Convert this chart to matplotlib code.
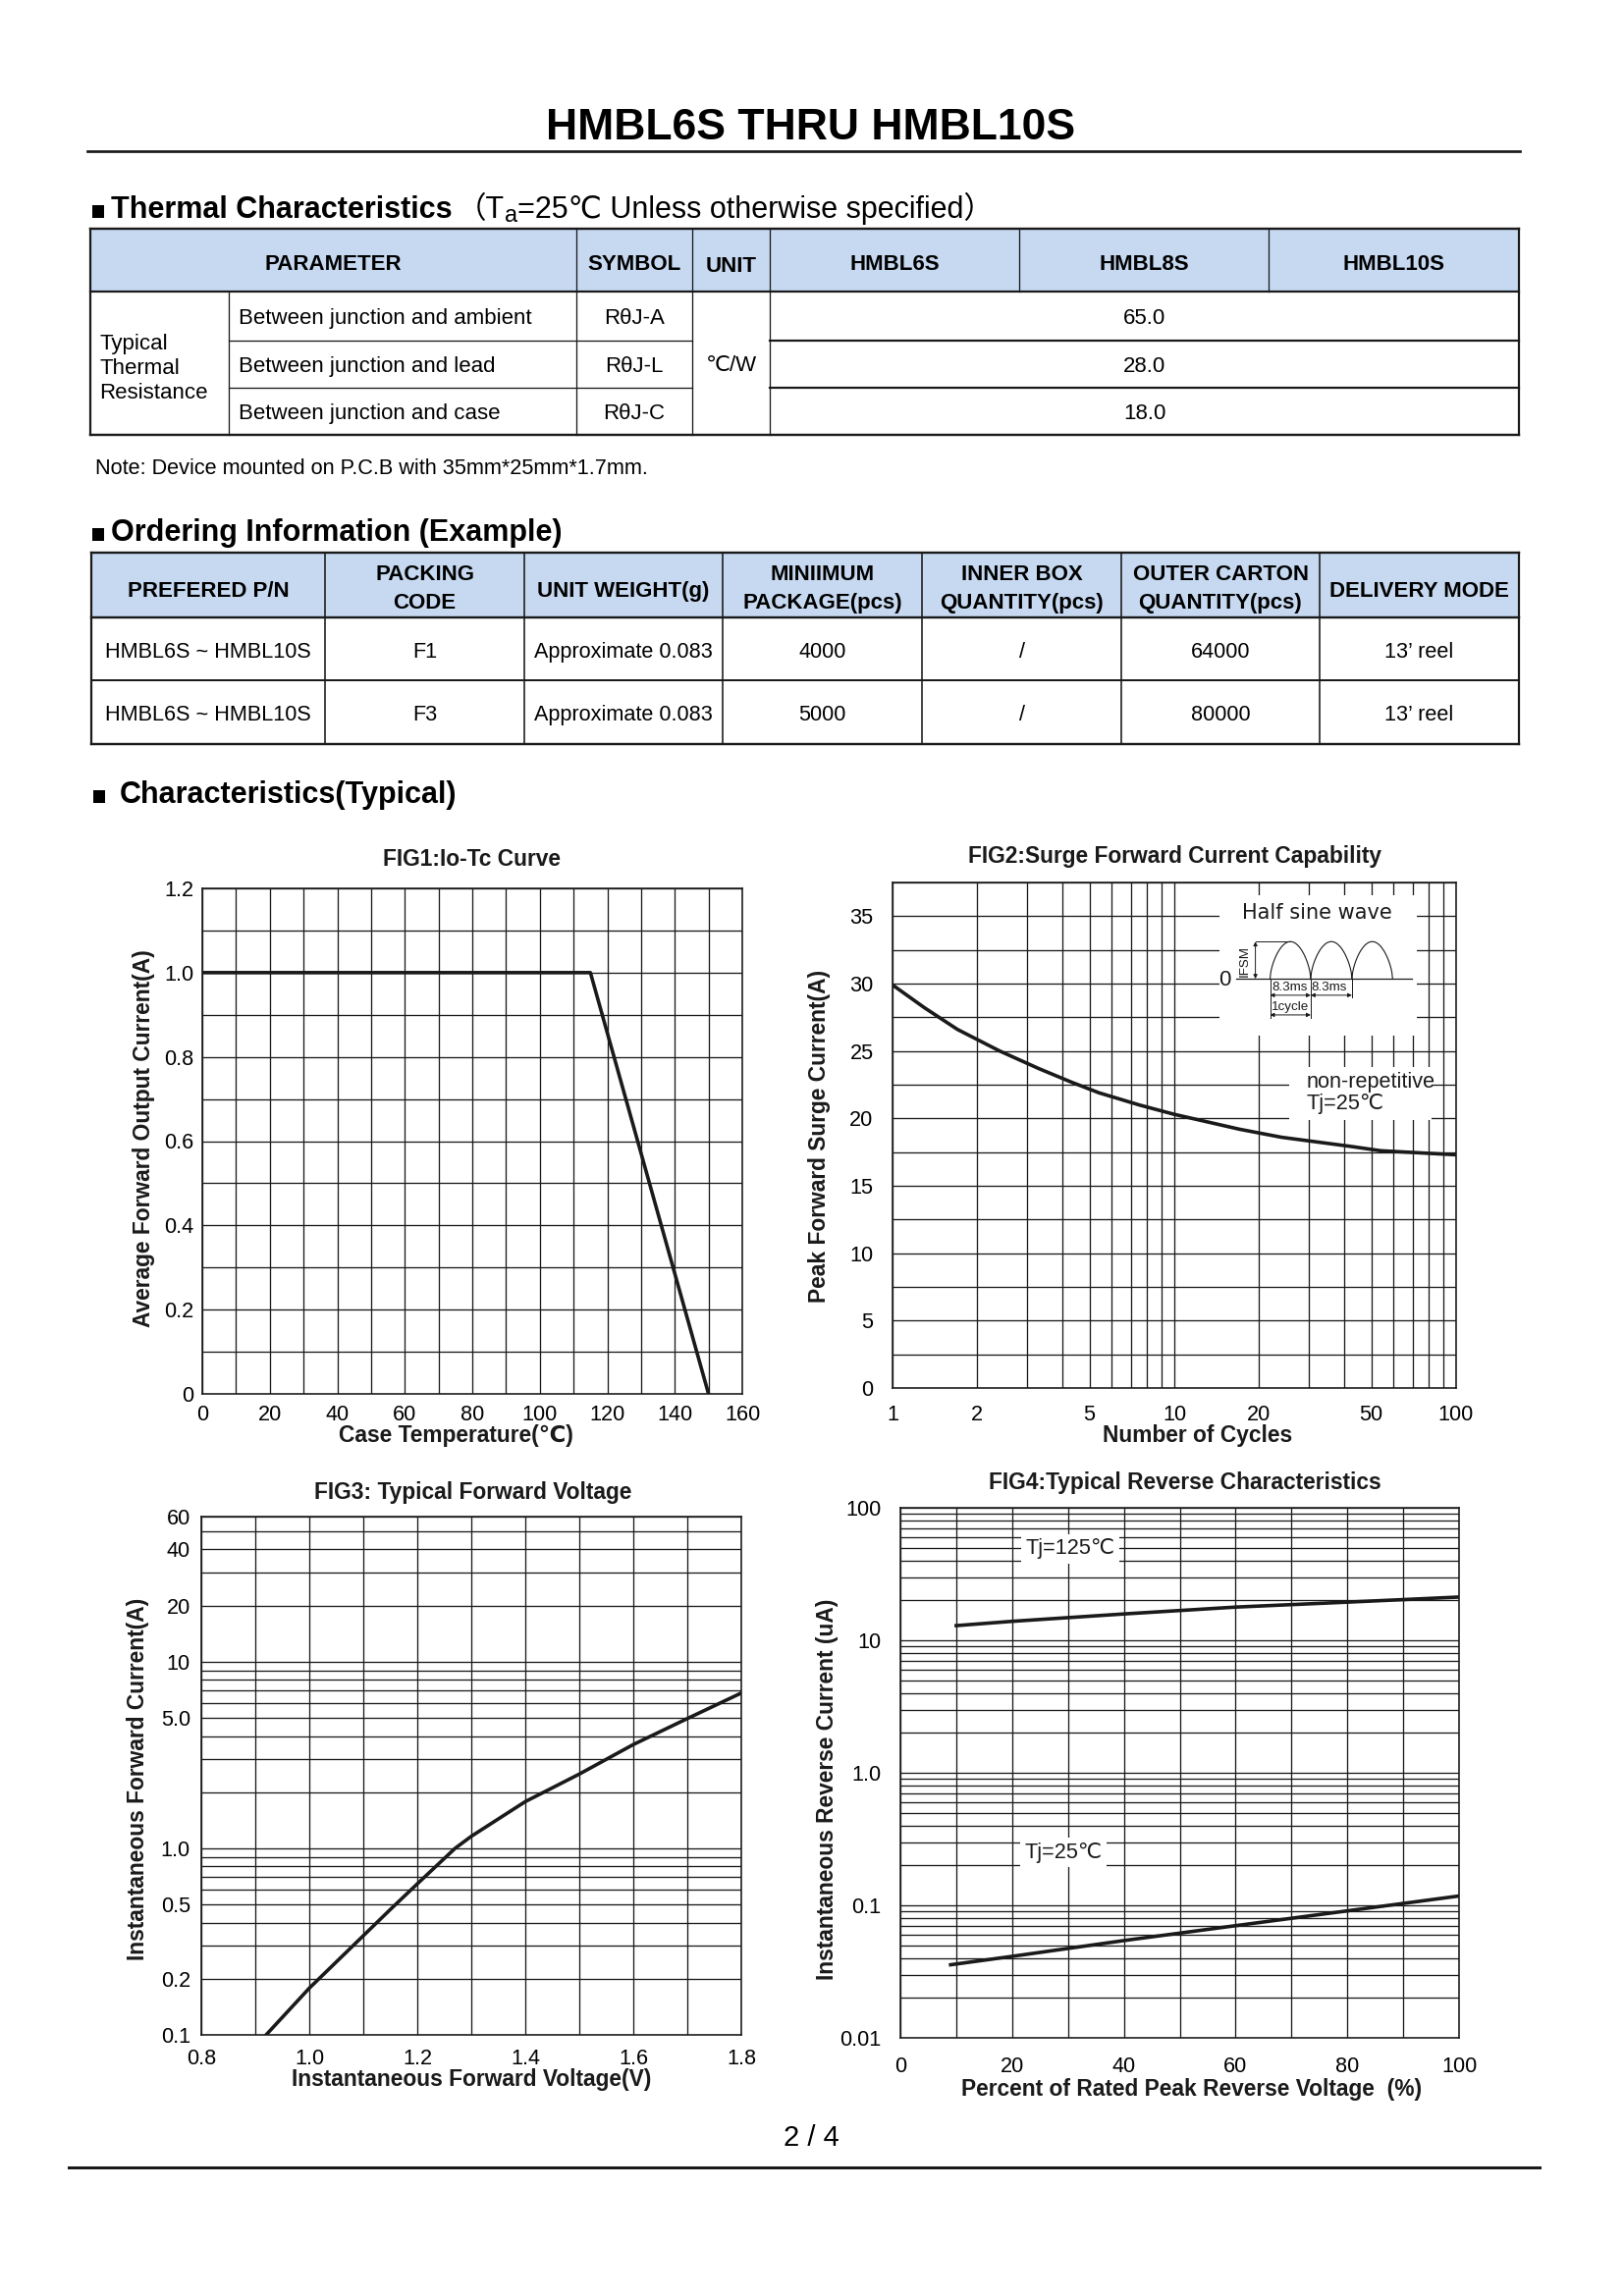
import numpy as np
import matplotlib
matplotlib.use("Agg")
import matplotlib.pyplot as plt
from matplotlib.patches import Rectangle

# fonts: Arial look-alike first, then fallbacks for ℃ and the fullwidth brackets
plt.rcParams['font.family'] = ['Liberation Sans', 'DejaVu Sans', 'Noto Sans CJK SC']

W, H, DPI = 1654, 2339, 200
INK = '#1a1a1a'
HEAD_BLUE = '#c6d9f1'

# ---------------- table data ----------------
thermal_cols = ["PARAMETER", "SYMBOL", "UNIT", "HMBL6S", "HMBL8S", "HMBL10S"]
thermal_group = ["Typical", "Thermal", "Resistance"]
thermal_params = ["Between junction and ambient", "Between junction and lead", "Between junction and case"]
thermal_symbols = ["RθJ-A", "RθJ-L", "RθJ-C"]
thermal_unit = "℃/W"
thermal_values = ["65.0", "28.0", "18.0"]

order_cols = ["PREFERED P/N", "PACKING\nCODE", "UNIT WEIGHT(g)", "MINIIMUM\nPACKAGE(pcs)",
              "INNER BOX\nQUANTITY(pcs)", "OUTER CARTON\nQUANTITY(pcs)", "DELIVERY MODE"]
order_row1 = ["HMBL6S ~ HMBL10S", "F1", "Approximate 0.083", "4000", "/", "64000", "13’ reel"]
order_row2 = ["HMBL6S ~ HMBL10S", "F3", "Approximate 0.083", "5000", "/", "80000", "13’ reel"]

# ---------------- curve data ----------------
# FIG1 Io-Tc derating
case_temp = [0, 115, 150]
io_current = [1.0, 1.0, 0.0]

# FIG2 surge current vs number of cycles
surge_cycles = [1, 1.3, 1.7, 2.4, 3.3, 4.3, 5.4, 7.5, 10, 17, 24, 43, 54, 100]
surge_amps = [29.9, 28.2, 26.6, 25.0, 23.7, 22.7, 21.9, 21.0, 20.3, 19.2, 18.6, 17.9, 17.6, 17.3]

# FIG3 forward voltage
vf_volts = [0.92, 1.0, 1.1, 1.15, 1.2, 1.27, 1.3, 1.4, 1.5, 1.6, 1.7, 1.8]
if_amps = [0.10, 0.178, 0.34, 0.47, 0.645, 1.0, 1.16, 1.78, 2.5, 3.6, 4.96, 6.8]

# FIG4 reverse current
vr_pct_125 = [10, 20, 40, 60, 80, 100]
ir_125 = [12.9, 13.9, 15.8, 17.8, 19.4, 21.2]
vr_pct_25 = [9, 20, 40, 60, 80, 100]
ir_25 = [0.0356, 0.0412, 0.0542, 0.0702, 0.0908, 0.1176]


def lw(px):
    # pixel width -> points at 200 dpi
    return px * 72 / DPI


fig = plt.figure(figsize=(W / DPI, H / DPI), dpi=DPI)
renderer = fig.canvas.get_renderer()

# page layer in pixel coordinates (y down)
page = fig.add_axes([0, 0, 1, 1])
page.set_xlim(0, W)
page.set_ylim(H, 0)
page.axis('off')


def hline(x0, x1, y, px=1.3):
    page.plot([x0, x1], [y, y], color=INK, lw=lw(px), solid_capstyle='projecting')


def vline(x, y0, y1, px=1.3):
    page.plot([x, x], [y0, y1], color=INK, lw=lw(px), solid_capstyle='projecting')


def run(x, y, pieces):
    # draw text pieces one after another on a common baseline
    for s, kw in pieces:
        kw = dict(kw)
        dy = kw.pop('dy', 0)
        gap = kw.pop('gap', 0)
        x += gap
        t = page.text(x, y + dy, s, va='baseline', ha='left', color='black', **kw)
        x += t.get_window_extent(renderer).width
    return x


def square(x, y):
    page.add_patch(Rectangle((x, y - 13), 12, 13, fc='black', ec='none'))


def cell(x, y, s, size=8, weight='normal', ha='center'):
    page.text(x, y, s, ha=ha, va='center_baseline', fontsize=size, fontweight=weight, color='black')


# ---------------- title ----------------
page.text(826, 142, "HMBL6S THRU HMBL10S", ha='center', va='baseline',
          fontsize=16, fontweight='bold')
hline(89, 1548, 154, 2.7)

# ---------------- thermal table ----------------
square(94, 222)
run(113, 222, [("Thermal Characteristics", dict(fontsize=11, fontweight='bold')),
               ("（T", dict(fontsize=11, gap=4)),
               ("a", dict(fontsize=8.5, dy=4)),
               ("=25℃ Unless otherwise specified）", dict(fontsize=11))])

tx = [92, 233, 587, 705, 784, 1038, 1292, 1547]
ty = [233, 297, 347, 395, 443]
page.add_patch(Rectangle((tx[0], ty[0]), tx[-1] - tx[0], ty[1] - ty[0], fc=HEAD_BLUE, ec='none'))
for x in tx[2:7]:
    vline(x, ty[0], ty[1])
for x in tx[1:5]:
    vline(x, ty[1], ty[-1])
for y in ty[2:4]:
    hline(tx[1], tx[3], y, 1.3)
    hline(tx[4], tx[7], y, 2.2)
hline(tx[0], tx[-1], ty[1], 2.2)
hline(tx[0], tx[-1], ty[0], 2.4)
hline(tx[0], tx[-1], ty[-1], 2.4)
vline(tx[0], ty[0], ty[-1], 2.2)
vline(tx[-1], ty[0], ty[-1], 2.2)

head_y = 267
cell((tx[0] + tx[2]) / 2, head_y, thermal_cols[0], weight='bold')
for i, name in enumerate(thermal_cols[1:]):
    cell((tx[i + 2] + tx[i + 3]) / 2, head_y + (2 if name == "UNIT" else 0), name, weight='bold')

for i, s in enumerate(thermal_group):
    page.text(101, 348 + 25 * i, s, ha='left', va='center_baseline', fontsize=8)
for i in range(3):
    yc = (ty[i + 1] + ty[i + 2]) / 2
    cell(243, yc, thermal_params[i], ha='left')
    cell((tx[2] + tx[3]) / 2, yc, thermal_symbols[i])
    cell((tx[4] + tx[7]) / 2, yc, thermal_values[i])
cell((tx[3] + tx[4]) / 2, (ty[1] + ty[-1]) / 2, thermal_unit)

page.text(97, 475, "Note: Device mounted on P.C.B with 35mm*25mm*1.7mm.", ha='left',
          va='center_baseline', fontsize=7.8)

# ---------------- ordering table ----------------
square(94, 551)
run(113, 551, [("Ordering Information (Example)", dict(fontsize=11, fontweight='bold'))])

ox = [93, 331, 534, 736, 939, 1142, 1344, 1547]
oy = [563, 629, 693, 758]
page.add_patch(Rectangle((ox[0], oy[0]), ox[-1] - ox[0], oy[1] - oy[0], fc=HEAD_BLUE, ec='none'))
for x in ox[1:-1]:
    vline(x, oy[0], oy[-1], 1.6)
hline(ox[0], ox[-1], oy[1], 2.4)
hline(ox[0], ox[-1], oy[2], 2.0)
hline(ox[0], ox[-1], oy[0], 2.4)
hline(ox[0], ox[-1], oy[-1], 2.4)
vline(ox[0], oy[0], oy[-1], 2.2)
vline(ox[-1], oy[0], oy[-1], 2.2)

for i, name in enumerate(order_cols):
    xc = (ox[i] + ox[i + 1]) / 2
    lines = name.split("\n")
    if len(lines) == 2:
        cell(xc, 583, lines[0], weight='bold')
        cell(xc, 612, lines[1], weight='bold')
    else:
        cell(xc, 600, name, weight='bold')
for row, yc in [(order_row1, 662), (order_row2, 726)]:
    for i, s in enumerate(row):
        cell((ox[i] + ox[i + 1]) / 2, yc, s, size=7.8)

# ---------------- characteristics ----------------
square(95, 818)
run(122, 818, [("Characteristics(Typical)", dict(fontsize=11, fontweight='bold'))])


def px_axes(l, t, r, b):
    return fig.add_axes([l / W, 1 - b / H, (r - l) / W, (b - t) / H])


def style(ax):
    for s in ax.spines.values():
        s.set_linewidth(lw(1.6))
        s.set_color(INK)
    ax.tick_params(which='both', length=0, labelsize=7.8, colors='black')
    ax.grid(True, which='both', color=INK, lw=lw(1.3))
    ax.set_axisbelow(True)


def labels(title, tpos, xlab, xpos, ylab, ypos):
    page.text(tpos[0], tpos[1], title, ha='center', va='center', fontsize=8.2, fontweight='bold', color=INK)
    page.text(xpos[0], xpos[1], xlab, ha='center', va='center', fontsize=8.2, fontweight='bold', color=INK)
    page.text(ypos[0], ypos[1], ylab, ha='center', va='center', rotation=90, fontsize=8.2,
              fontweight='bold', color=INK)


CURVE = dict(color=INK, lw=lw(3.6), solid_joinstyle='round', zorder=3)

# FIG1
ax1 = px_axes(206, 905, 756, 1420)
style(ax1)
ax1.plot(case_temp, io_current, **CURVE)
ax1.set_xlim(0, 160)
ax1.set_ylim(0, 1.2)
ax1.set_xticks(range(0, 161, 20))
ax1.set_xticks(range(0, 161, 10), minor=True)
ax1.set_yticks([0, 0.2, 0.4, 0.6, 0.8, 1.0, 1.2])
ax1.set_yticklabels(['0', '0.2', '0.4', '0.6', '0.8', '1.0', '1.2'])
ax1.set_yticks(np.arange(0, 1.21, 0.1), minor=True)
ax1.tick_params(axis='x', pad=4)
ax1.tick_params(axis='y', pad=3)
labels("FIG1:Io-Tc Curve", (481, 876), "Case Temperature(℃)", (464, 1463),
       "Average Forward Output Current(A)", (146, 1160))

# FIG2
ax2 = px_axes(909, 899, 1483, 1414)
style(ax2)
ax2.set_xscale('log')
ax2.plot(surge_cycles, surge_amps, **CURVE)
ax2.set_xlim(1, 100)
ax2.set_ylim(0, 37.5)
ax2.set_xticks([1, 2, 5, 10, 20, 50, 100])
ax2.set_xticklabels(['1', '2', '5', '10', '20', '50', '100'])
ax2.set_xticks([3, 4, 6, 7, 8, 9, 30, 40, 60, 70, 80, 90], minor=True)
ax2.xaxis.set_minor_formatter(plt.NullFormatter())
ax2.set_yticks(range(0, 36, 5))
ax2.set_yticks(np.arange(0, 37.6, 2.5), minor=True)
ax2.tick_params(axis='x', pad=6)
ax2.tick_params(axis='y', pad=7)
# white boxes for the inset and the note
for (x0, y0, x1, y1) in [(0.580, 0.697, 0.931, 0.974), (0.703, 0.531, 0.957, 0.634)]:
    ax2.add_patch(Rectangle((x0, y0), x1 - x0, y1 - y0, transform=ax2.transAxes,
                            fc='white', ec='none', zorder=1.5))
tA = ax2.transAxes
base, amp = 0.8095, 0.0735
t = np.linspace(0, 1, 60)
for a0, a1 in [(0.6699, 0.742), (0.742, 0.8152), (0.8152, 0.8873)]:
    ax2.plot(a0 + (a1 - a0) * t, base + amp * np.sin(np.pi * t) ** 0.6, transform=tA,
             color=INK, lw=0.4, zorder=4)
ax2.plot([0.6105, 0.922], [base, base], transform=tA, color=INK, lw=0.45, zorder=4)
ax2.plot([0.6439, 0.706], [base + amp, base + amp], transform=tA, color=INK, lw=0.35, zorder=4)
ax2.plot([0.6699, 0.6699], [base, 0.733], transform=tA, color=INK, lw=0.35, zorder=4)
ax2.plot([0.742, 0.742], [base, 0.733], transform=tA, color=INK, lw=0.35, zorder=4)
ax2.plot([0.8152, 0.8152], [base, 0.772], transform=tA, color=INK, lw=0.35, zorder=4)
arrow = dict(arrowstyle='<|-|>', lw=0.35, color=INK, mutation_scale=3, shrinkA=0, shrinkB=0)
ax2.annotate('', xy=(0.6439, base + amp), xytext=(0.6439, base), xycoords=tA, arrowprops=arrow, zorder=4)
ax2.annotate('', xy=(0.6699, 0.777), xytext=(0.742, 0.777), xycoords=tA, arrowprops=arrow, zorder=4)
ax2.annotate('', xy=(0.742, 0.777), xytext=(0.8152, 0.777), xycoords=tA, arrowprops=arrow, zorder=4)
ax2.annotate('', xy=(0.6699, 0.738), xytext=(0.742, 0.738), xycoords=tA, arrowprops=arrow, zorder=4)
ax2.text(0.7535, 0.9396, "Half sine wave", transform=tA, ha='center', va='center', fontsize=7.5,
         family='DejaVu Sans', color=INK, zorder=4)
ax2.text(0.590, 0.8075, "0", transform=tA, ha='center', va='center', fontsize=8, color=INK, zorder=4)
ax2.text(0.6254, 0.8453, "IFSM", transform=tA, ha='center', va='center', rotation=90, fontsize=4.8,
         color=INK, zorder=4)
for xc in (0.7056, 0.7748):
    ax2.text(xc, 0.792, "8.3ms", transform=tA, ha='center', va='center', fontsize=4.8, color=INK, zorder=4)
ax2.text(0.7056, 0.754, "1cycle", transform=tA, ha='center', va='center', fontsize=4.8, color=INK, zorder=4)
ax2.text(0.734, 0.6047, "non-repetitive", transform=tA, ha='left', va='center', fontsize=7.8, color=INK, zorder=4)
ax2.text(0.734, 0.5623, "Tj=25℃", transform=tA, ha='left', va='center', fontsize=7.8, color=INK, zorder=4)
labels("FIG2:Surge Forward Current Capability", (1196, 873), "Number of Cycles", (1220, 1462),
       "Peak Forward Surge Current(A)", (834, 1157))

# FIG3
ax3 = px_axes(205, 1545, 755, 2073)
style(ax3)
ax3.set_yscale('log')
ax3.plot(vf_volts, if_amps, **CURVE)
ax3.set_xlim(0.8, 1.8)
ax3.set_ylim(0.1, 60)
ax3.set_xticks([0.8, 1.0, 1.2, 1.4, 1.6, 1.8])
ax3.set_xticklabels(['0.8', '1.0', '1.2', '1.4', '1.6', '1.8'])
ax3.set_xticks(np.arange(0.8, 1.81, 0.1), minor=True)
ax3.set_yticks([0.1, 0.2, 0.5, 1, 5, 10, 20, 40, 60])
ax3.set_yticklabels(['0.1', '0.2', '0.5', '1.0', '5.0', '10', '20', '40', '60'])
ax3.set_yticks([0.3, 0.4, 0.6, 0.7, 0.8, 0.9, 2, 3, 4, 6, 7, 8, 9, 30, 50], minor=True)
ax3.yaxis.set_minor_formatter(plt.NullFormatter())
ax3.tick_params(axis='x', pad=5)
ax3.tick_params(axis='y', pad=4)
labels("FIG3: Typical Forward Voltage", (482, 1521), "Instantaneous Forward Voltage(V)", (480, 2119),
       "Instantaneous Forward Current(A)", (140, 1812))

# FIG4
ax4 = px_axes(917, 1536, 1486, 2076)
style(ax4)
ax4.set_yscale('log')
ax4.plot(vr_pct_125, ir_125, **CURVE)
ax4.plot(vr_pct_25, ir_25, **CURVE)
ax4.set_xlim(0, 100)
ax4.set_ylim(0.01, 100)
ax4.set_xticks(range(0, 101, 20))
ax4.set_xticks(range(0, 101, 10), minor=True)
ax4.set_yticks([0.01, 0.1, 1, 10, 100])
ax4.set_yticklabels(['0.01', '0.1', '1.0', '10', '100'])
minor4 = [m * d for d in (0.01, 0.1, 1, 10) for m in range(2, 10)]
ax4.set_yticks(minor4, minor=True)
ax4.yaxis.set_minor_formatter(plt.NullFormatter())
ax4.tick_params(axis='x', pad=7)
ax4.tick_params(axis='y', pad=7)
box = dict(fc='white', ec='none', pad=1.5)
ax4.text(30.4, 48.9, "Tj=125℃", ha='center', va='center', fontsize=7.8, color=INK, bbox=box, zorder=4)
ax4.text(29.2, 0.251, "Tj=25℃", ha='center', va='center', fontsize=7.8, color=INK, bbox=box, zorder=4)
labels("FIG4:Typical Reverse Characteristics", (1207, 1511), "Percent of Rated Peak Reverse Voltage  (%)",
       (1214, 2128), "Instantaneous Reverse Current (uA)", (843, 1823))

# ---------------- footer ----------------
page.text(826, 2178, "2 / 4", ha='center', va='center', fontsize=10.5)
hline(70, 1568, 2208, 3)

fig.savefig("out.png", dpi=DPI)
plt.close(fig)
